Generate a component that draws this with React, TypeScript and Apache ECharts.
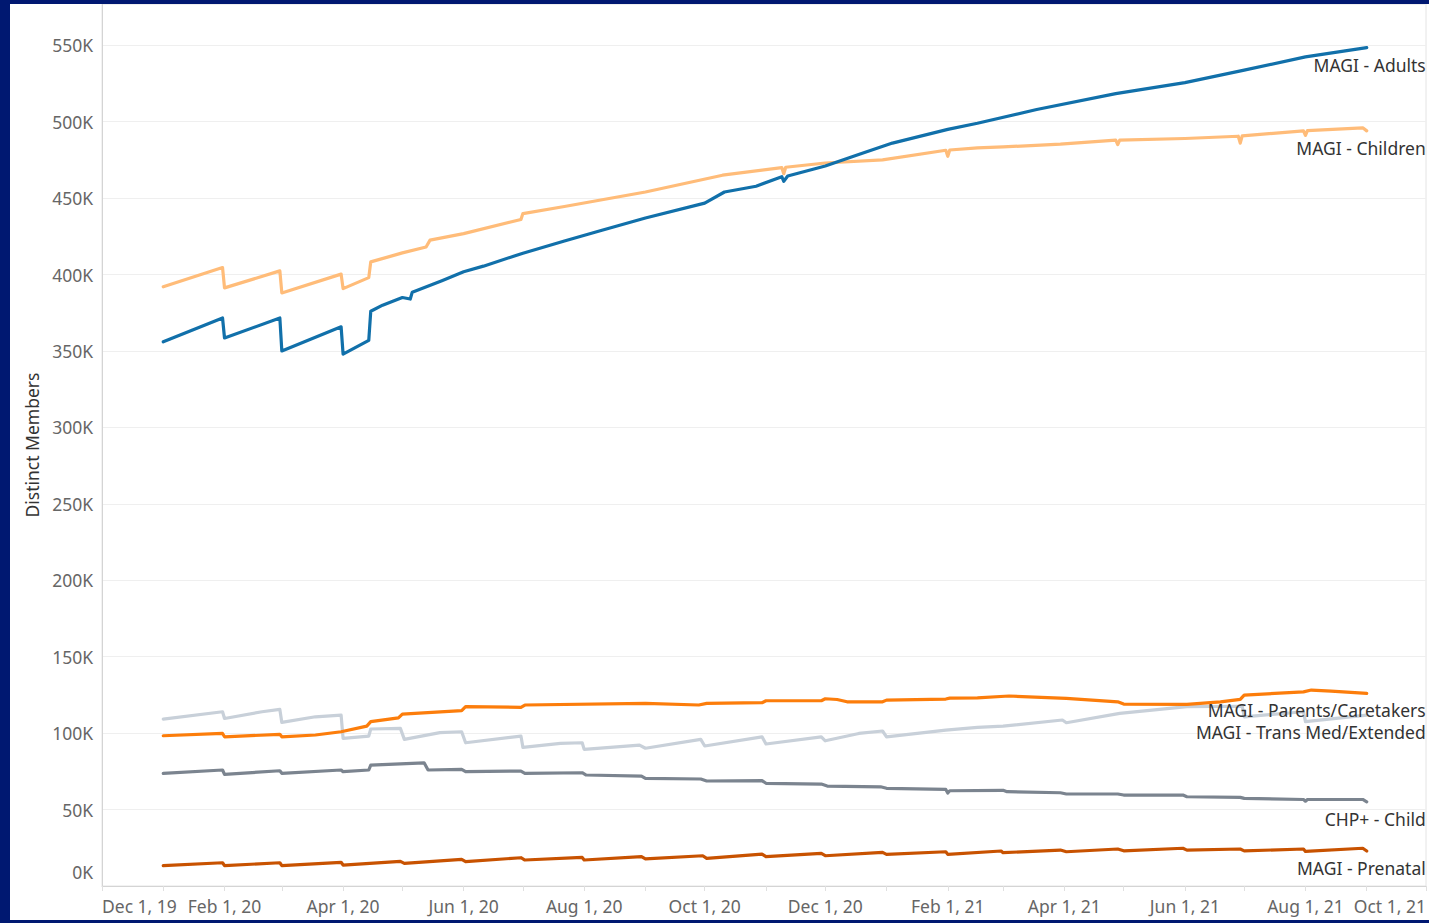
import React, { useEffect, useRef } from 'react';
import * as echarts from 'echarts';

const FONT = '"Noto Sans", "DejaVu Sans", sans-serif';

const X_MIN = '2019-12-01';
const X_MAX = '2021-10-01';
const Y_MAX = 577;
const Y_STEP = 50;
const MONTHS = ['Jan', 'Feb', 'Mar', 'Apr', 'May', 'Jun', 'Jul', 'Aug', 'Sep', 'Oct', 'Nov', 'Dec'];

const SERIES_NAMES = [
  'MAGI - Adults',
  'MAGI - Children',
  'MAGI - Parents/Caretakers',
  'MAGI - Trans Med/Extended',
  'CHP+ - Child',
  'MAGI - Prenatal',
];

const SERIES_COLORS = ['#1170aa', '#ffbc79', '#fc7d0b', '#c8d0d9', '#7b848f', '#c85200'];

// values in thousands of distinct members
const adults: [string, number][] = [
  ['2020-01-01', 356], ['2020-01-31', 371.6], ['2020-02-01', 358.5], ['2020-02-29', 371.6],
  ['2020-03-01', 350], ['2020-03-31', 365.8], ['2020-04-01', 348], ['2020-04-14', 357],
  ['2020-04-15', 376], ['2020-04-21', 380], ['2020-05-01', 385], ['2020-05-05', 384],
  ['2020-05-06', 388.5], ['2020-05-21', 396], ['2020-06-01', 401.8], ['2020-06-11', 405.5],
  ['2020-07-01', 414], ['2020-07-22', 422], ['2020-08-10', 429], ['2020-09-01', 437],
  ['2020-10-01', 446.7], ['2020-10-11', 454], ['2020-10-27', 457.8], ['2020-11-09', 464],
  ['2020-11-10', 461], ['2020-11-12', 464.5], ['2020-12-01', 471], ['2020-12-19', 479],
  ['2021-01-04', 486], ['2021-02-01', 495], ['2021-02-16', 499], ['2021-03-18', 508],
  ['2021-04-27', 518.4], ['2021-06-01', 525.6], ['2021-07-01', 533.7], ['2021-08-01', 542.4],
  ['2021-09-01', 548.5],
];

const children: [string, number][] = [
  ['2020-01-01', 392], ['2020-01-31', 404.6], ['2020-02-01', 391.3], ['2020-02-29', 402.4],
  ['2020-03-01', 388], ['2020-03-31', 400.3], ['2020-04-01', 390.8], ['2020-04-14', 398],
  ['2020-04-15', 408.3], ['2020-05-01', 414.2], ['2020-05-13', 418], ['2020-05-15', 422.5],
  ['2020-06-01', 426.8], ['2020-06-30', 436], ['2020-07-01', 439.9], ['2020-07-22', 444.5],
  ['2020-09-01', 454], ['2020-10-10', 465], ['2020-11-09', 470], ['2020-11-10', 466],
  ['2020-11-11', 470.2], ['2020-12-01', 473], ['2020-12-30', 475], ['2021-01-31', 481.3],
  ['2021-02-01', 477.4], ['2021-02-02', 481.5], ['2021-02-16', 482.9], ['2021-03-01', 483.5],
  ['2021-03-30', 485.3], ['2021-04-27', 487.9], ['2021-04-28', 485], ['2021-04-29', 488],
  ['2021-06-01', 489], ['2021-06-28', 490.5], ['2021-06-29', 486], ['2021-06-30', 490.7],
  ['2021-07-31', 494], ['2021-08-01', 491], ['2021-08-02', 494.2], ['2021-08-30', 496],
  ['2021-09-01', 494],
];

const parents: [string, number][] = [
  ['2020-01-01', 98.3], ['2020-01-31', 99.8], ['2020-02-01', 97.6], ['2020-02-29', 99.2],
  ['2020-03-01', 97.6], ['2020-03-18', 98.8], ['2020-03-31', 100.9], ['2020-04-13', 104.6],
  ['2020-04-15', 107.5], ['2020-04-29', 110], ['2020-05-01', 112.5], ['2020-05-31', 114.7],
  ['2020-06-02', 117.3], ['2020-06-30', 116.9], ['2020-07-02', 118.4], ['2020-09-01', 119.5],
  ['2020-09-28', 118.4], ['2020-10-02', 119.5], ['2020-10-30', 119.9], ['2020-11-01', 121.2],
  ['2020-11-29', 121.2], ['2020-12-01', 122.5], ['2020-12-07', 122], ['2020-12-12', 120.5],
  ['2020-12-30', 120.5], ['2021-01-01', 121.6], ['2021-01-31', 122.3], ['2021-02-02', 122.9],
  ['2021-02-16', 123.1], ['2021-03-04', 124.3], ['2021-04-02', 122.7], ['2021-04-28', 120.5],
  ['2021-05-01', 119], ['2021-06-02', 118.8], ['2021-06-19', 120.5], ['2021-06-29', 122.1],
  ['2021-07-01', 124.9], ['2021-07-31', 127], ['2021-08-04', 128.2], ['2021-08-14', 127.5],
  ['2021-09-01', 126],
];

const transMed: [string, number][] = [
  ['2020-01-01', 109.2], ['2020-01-31', 114], ['2020-02-01', 109.6], ['2020-02-20', 114],
  ['2020-02-29', 115.5], ['2020-03-01', 107], ['2020-03-18', 110.7], ['2020-03-31', 111.8],
  ['2020-04-01', 96.6], ['2020-04-14', 98.1], ['2020-04-15', 102.7], ['2020-04-30', 103.1],
  ['2020-05-02', 95.9], ['2020-05-20', 100.3], ['2020-05-31', 100.9], ['2020-06-02', 93.7],
  ['2020-06-30', 98.1], ['2020-07-01', 90.7], ['2020-07-20', 93.3], ['2020-07-31', 93.7],
  ['2020-08-01', 89.4], ['2020-08-29', 92.2], ['2020-09-01', 90.1], ['2020-09-29', 95.9],
  ['2020-10-01', 91.6], ['2020-10-30', 97.6], ['2020-11-01', 92.9], ['2020-11-29', 97.6],
  ['2020-12-01', 95], ['2020-12-18', 99.8], ['2020-12-30', 101.4], ['2021-01-01', 97.6],
  ['2021-01-31', 102], ['2021-02-16', 103.8], ['2021-03-01', 104.6], ['2021-03-31', 108.6],
  ['2021-04-02', 106.8], ['2021-04-29', 112.9], ['2021-06-02', 117.3], ['2021-06-30', 117.6],
  ['2021-07-01', 110.7], ['2021-07-31', 114], ['2021-08-01', 107.5], ['2021-09-01', 111.8],
];

const chpChild: [string, number][] = [
  ['2020-01-01', 73.7], ['2020-01-31', 75.9], ['2020-02-01', 73], ['2020-02-29', 75.4],
  ['2020-03-01', 73.7], ['2020-03-31', 75.9], ['2020-04-01', 74.8], ['2020-04-14', 75.9],
  ['2020-04-15', 79.1], ['2020-05-12', 80.6], ['2020-05-14', 75.9], ['2020-05-31', 76.3],
  ['2020-06-02', 74.8], ['2020-06-30', 75.2], ['2020-07-02', 73.7], ['2020-07-31', 74.1],
  ['2020-08-02', 72.6], ['2020-08-30', 71.9], ['2020-09-01', 70.4], ['2020-09-29', 70],
  ['2020-10-02', 68.7], ['2020-10-30', 68.9], ['2020-11-01', 67.2], ['2020-11-29', 66.7],
  ['2020-12-02', 65.4], ['2020-12-29', 64.9], ['2021-01-01', 63.9], ['2021-01-31', 63.2],
  ['2021-02-01', 60.8], ['2021-02-02', 62.3], ['2021-03-01', 62.6], ['2021-03-03', 61.7],
  ['2021-03-30', 61], ['2021-04-02', 60.2], ['2021-04-28', 60.2], ['2021-05-01', 59.5],
  ['2021-05-31', 59.5], ['2021-06-02', 58.4], ['2021-06-29', 58], ['2021-07-01', 57.3],
  ['2021-07-31', 56.6], ['2021-08-01', 55.5], ['2021-08-02', 56.6], ['2021-08-30', 56.6],
  ['2021-09-01', 55.1],
];

const prenatal: [string, number][] = [
  ['2020-01-01', 13.3], ['2020-01-31', 15.2], ['2020-02-01', 13.3], ['2020-02-29', 15.2],
  ['2020-03-01', 13.3], ['2020-03-31', 15.5], ['2020-04-01', 13.7], ['2020-04-30', 16.1],
  ['2020-05-02', 14.8], ['2020-05-31', 17.4], ['2020-06-02', 15.9], ['2020-06-30', 18.5],
  ['2020-07-02', 17], ['2020-07-31', 18.7], ['2020-08-01', 17], ['2020-08-30', 19.2],
  ['2020-09-01', 17.7], ['2020-09-30', 19.8], ['2020-10-02', 18.1], ['2020-10-30', 20.9],
  ['2020-11-01', 19.2], ['2020-11-29', 21.3], ['2020-12-01', 19.8], ['2020-12-30', 22],
  ['2021-01-01', 20.7], ['2021-01-31', 22.4], ['2021-02-01', 20.7], ['2021-02-28', 22.9],
  ['2021-03-01', 21.8], ['2021-03-30', 23.5], ['2021-04-02', 22.4], ['2021-04-28', 24.2],
  ['2021-05-01', 23], ['2021-05-31', 24.7], ['2021-06-02', 23.5], ['2021-06-29', 24.2],
  ['2021-07-01', 23], ['2021-07-31', 24.2], ['2021-08-01', 22.6], ['2021-08-30', 24.7],
  ['2021-09-01', 22.9],
];

const SERIES_DATA = [adults, children, parents, transMed, chpChild, prenatal];

export default function App() {
  const ref = useRef<HTMLDivElement>(null);

  useEffect(() => {
    document.body.style.margin = '0';
    const chart = echarts.init(ref.current!, null, { renderer: 'svg' });
    const DAY = 86400000;

    chart.setOption({
      animation: false,
      textStyle: { fontFamily: FONT },
      grid: {
        left: 92,
        right: 1,
        top: 0,
        bottom: 34,
        show: true,
        borderColor: '#e4e4e4',
        borderWidth: 1,
      },
      xAxis: {
        type: 'time',
        min: X_MIN,
        max: X_MAX,
        minInterval: 28 * DAY,
        maxInterval: 31 * DAY,
        axisLine: { show: true, lineStyle: { color: '#d4d4d4', width: 1 } },
        axisTick: { show: true, length: 5, lineStyle: { color: '#e0e0e0' } },
        splitLine: { show: false },
        axisLabel: {
          show: true,
          showMinLabel: true,
          showMaxLabel: true,
          alignMinLabel: 'left',
          alignMaxLabel: 'right',
          hideOverlap: false,
          margin: 11,
          color: '#666',
          fontSize: 17.5,
          fontFamily: FONT,
          formatter: (value: number) => {
            const d = new Date(value);
            const m = d.getMonth();
            if (d.getDate() !== 1 || m % 2 !== 1) return '';
            return `${MONTHS[m]} 1, ${String(d.getFullYear()).slice(2)}`;
          },
        },
      },
      yAxis: {
        type: 'value',
        min: 0,
        max: Y_MAX,
        interval: Y_STEP,
        name: 'Distinct Members',
        nameLocation: 'middle',
        nameGap: 61,
        nameTextStyle: { color: '#333', fontSize: 17.5, fontFamily: FONT },
        axisLine: { show: true, lineStyle: { color: '#d4d4d4' } },
        axisTick: { show: false },
        splitLine: { show: true, lineStyle: { color: '#efefef', width: 1 } },
        axisLabel: {
          color: '#666',
          fontSize: 17.5,
          fontFamily: FONT,
          margin: 9,
          verticalAlignMinLabel: 'bottom',
          formatter: (v: number) => {
            if (v % Y_STEP !== 0) return '';
            if (v === 0) return '{zero|0K}';
            return `${v}K`;
          },
          rich: {
            zero: { color: '#666', fontSize: 17.5, fontFamily: FONT, padding: [0, 0, 5, 0] },
          },
        },
      },
      series: SERIES_NAMES.map((name, i) => ({
        name,
        type: 'line',
        data: SERIES_DATA[i],
        showSymbol: false,
        symbol: 'none',
        color: SERIES_COLORS[i],
        lineStyle: { width: 3.2, color: SERIES_COLORS[i], join: 'round', cap: 'round' },
        endLabel: {
          show: true,
          formatter: name,
          color: '#333',
          fontSize: 17.5,
          fontFamily: FONT,
          align: 'right',
          verticalAlign: 'middle',
          distance: 0,
          offset: [59, 17],
        },
        z: 10 - i,
      })),
    });

    return () => chart.dispose();
  }, []);

  return (
    <div
      style={{
        position: 'absolute',
        left: 0,
        top: 0,
        width: 1429,
        height: 923,
        background: '#001871',
      }}
    >
      <div
        ref={ref}
        style={{
          position: 'absolute',
          left: 10,
          top: 4,
          width: 1419,
          height: 916,
          background: '#ffffff',
        }}
      />
    </div>
  );
}
